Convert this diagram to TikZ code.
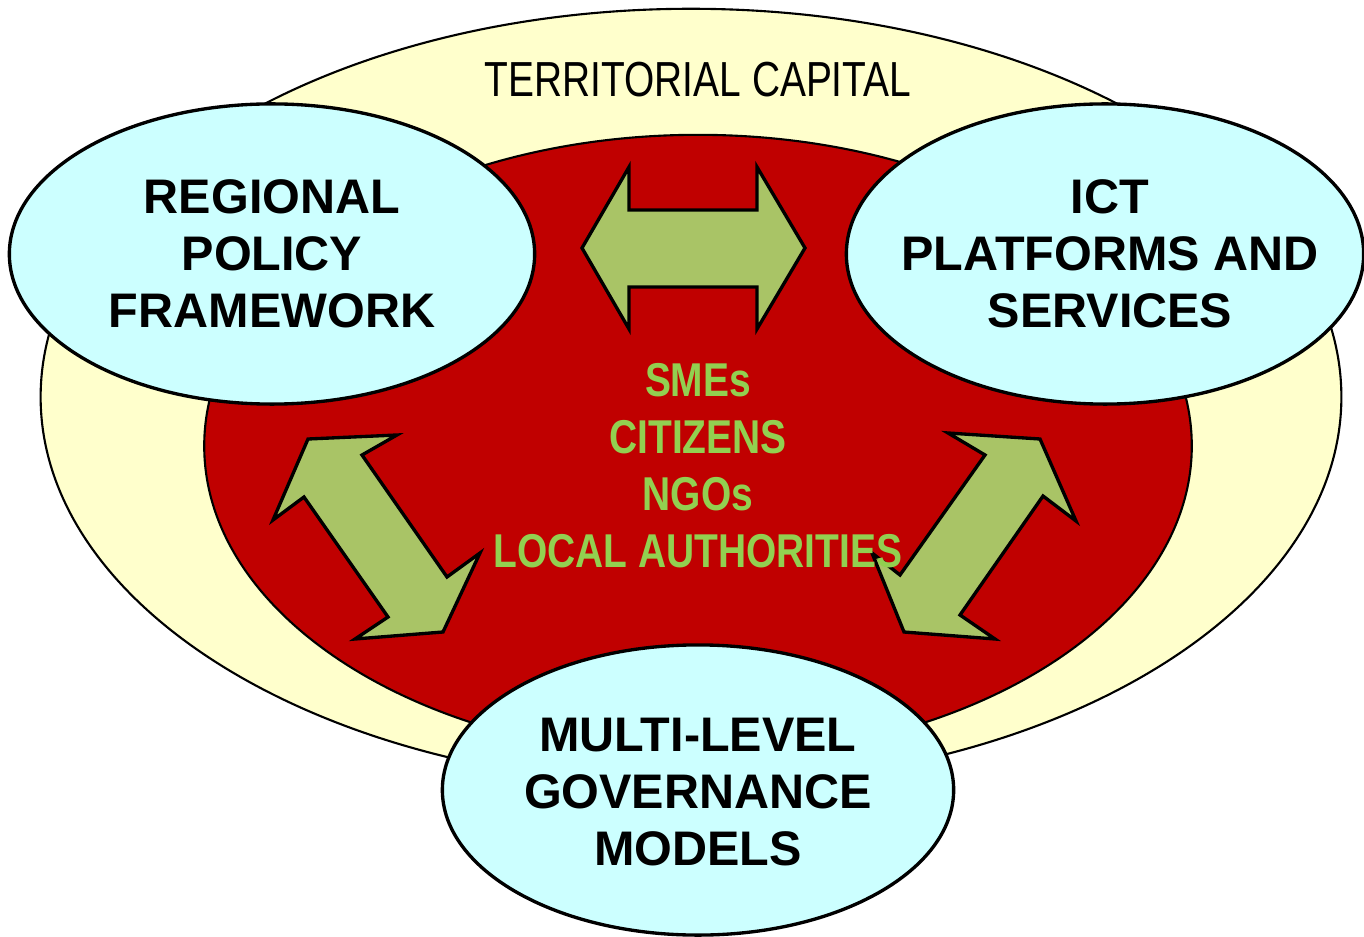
\documentclass[tikz,border=0pt]{standalone}
\usepackage{fontspec}
\setmainfont{Liberation Sans}
\usetikzlibrary{shapes.geometric}
\definecolor{capitalyellow}{HTML}{FFFFCC}
\definecolor{corered}{HTML}{C00000}
\definecolor{pillarblue}{HTML}{CCFFFF}
\definecolor{linkgreen}{HTML}{A9C466}
\definecolor{actorgreen}{HTML}{92D050}
\newcommand{\slimtext}[2][0.82]{\scalebox{#1}[1]{#2}}

\begin{document}
\begin{tikzpicture}[x=0.01cm,y=-0.01cm,
    pillar/.style={draw,ellipse,fill=pillarblue,line width=0.95pt,inner sep=0pt},
    pillartext/.style={align=center,font=\fontsize{13.8}{16.2}\selectfont\bfseries},
    linkarrow/.style={draw,fill=linkgreen,line width=0.95pt,line join=miter}]
    \useasboundingbox (0,0) rectangle (1364,937);
    \node (capital) [draw,ellipse,fill=capitalyellow,line width=0.6pt,inner sep=0pt,
        minimum width=13cm,minimum height=7.76cm] at (691,397) {};
    \node (core) [draw,ellipse,fill=corered,line width=0.6pt,inner sep=0pt,
        minimum width=9.87cm,minimum height=6.22cm] at (698,446) {};
    \node (regional) [pillar,minimum width=5.25cm,minimum height=3cm] at (272,254) {};
    \node (ict) [pillar,minimum width=5.17cm,minimum height=3cm] at (1105,254) {};
    \node (governance) [pillar,minimum width=5.11cm,minimum height=2.9cm] at (698,790) {};
    % double arrows between the three pillars
    \draw[linkarrow] (582,248) -- (629,167) -- (629,210) -- (757,210) -- (757,167)
        -- (805,248) -- (757,329) -- (757,287) -- (629,287) -- (629,329) -- cycle;
    \draw[linkarrow] (308,439) -- (397,435) -- (362,455) -- (447,577) -- (480,553)
        -- (443,632) -- (355,639) -- (388,617) -- (304,497) -- (273,520) -- cycle;
    \draw[linkarrow] (1040,439) -- (1076,521) -- (1043,496) -- (960,615) -- (995,639)
        -- (904,632) -- (872,553) -- (900,575) -- (985,455) -- (948,433) -- cycle;
    % texts
    \node (title) at (698,80) {\fontsize{14}{16}\selectfont\slimtext[0.79]{TERRITORIAL CAPITAL}};
    \node (regionaltext) [pillartext] at (regional) {REGIONAL\\POLICY\\FRAMEWORK};
    \node (icttext) [pillartext] at (1110,254) {ICT\\PLATFORMS AND\\SERVICES};
    \node (governancetext) [pillartext] at (698,792) {MULTI-LEVEL\\GOVERNANCE\\MODELS};
    \node (actors) [pillartext,text=actorgreen,font=\fontsize{13.5}{16.2}\selectfont\bfseries]
        at (698,466) {\slimtext{SMEs}\\\slimtext{CITIZENS}\\\slimtext{NGOs}\\\slimtext{LOCAL AUTHORITIES}};
\end{tikzpicture}
\end{document}
